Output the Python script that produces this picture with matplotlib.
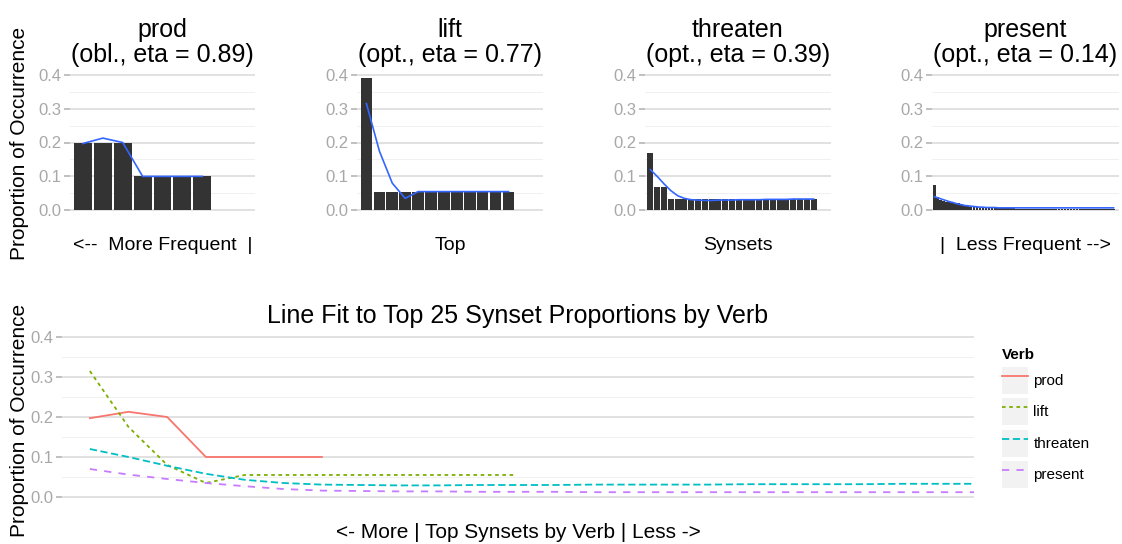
import matplotlib
matplotlib.use("Agg")
import matplotlib.pyplot as plt
from matplotlib.patches import Patch
from matplotlib.lines import Line2D
from matplotlib.ticker import MultipleLocator

plt.rcParams['font.family'] = ['Liberation Sans', 'DejaVu Sans']

# Anteile der Top-Synsets je Verb
verbs = ["prod", "lift", "threaten", "present"]
panel_titles = ["prod\n(obl., eta = 0.89)", "lift\n(opt., eta = 0.77)",
                "threaten\n(opt., eta = 0.39)", "present\n(opt., eta = 0.14)"]
panel_xlabels = ["<--  More Frequent  |", "Top", "Synsets", "|  Less Frequent -->"]

bars_prod = [0.2, 0.2, 0.2, 0.1, 0.1, 0.1, 0.1]
fit_prod = [0.197, 0.213, 0.2, 0.1, 0.1, 0.1, 0.1]

bars_lift = [0.39, 0.055, 0.055, 0.055, 0.055, 0.055, 0.055, 0.055, 0.055,
             0.055, 0.055, 0.055]
fit_lift = [0.315, 0.175, 0.08, 0.035, 0.055, 0.055, 0.055, 0.055, 0.055,
            0.055, 0.055, 0.055]

bars_threaten = [0.17, 0.07, 0.07, 0.032, 0.032, 0.032, 0.032, 0.032, 0.032,
                 0.032, 0.032, 0.032, 0.032, 0.032, 0.032, 0.032, 0.032, 0.032,
                 0.032, 0.032, 0.032, 0.032, 0.032, 0.032, 0.032]
fit_threaten = [0.12, 0.10, 0.078, 0.058, 0.043, 0.035, 0.031, 0.030, 0.029,
                0.029, 0.030, 0.030, 0.030, 0.031, 0.031, 0.031, 0.031, 0.032,
                0.032, 0.032, 0.032, 0.033, 0.033, 0.033, 0.033]

bars_present = [0.075, 0.038, 0.030, 0.027, 0.025, 0.024, 0.023, 0.022, 0.021,
                0.018, 0.012, 0.012, 0.011, 0.011, 0.010, 0.010, 0.010, 0.009,
                0.008, 0.008, 0.006, 0.006, 0.006, 0.006, 0.006, 0.006, 0.006,
                0.005, 0.005, 0.005, 0.005, 0.005, 0.005, 0.005, 0.005, 0.005,
                0.005, 0.005, 0.005, 0.005, 0.004, 0.004, 0.004, 0.004, 0.004,
                0.004, 0.004, 0.004, 0.004, 0.004, 0.004, 0.004, 0.004, 0.004,
                0.004, 0.004, 0.004, 0.004, 0.004, 0.004]
fit_present = [0.040, 0.037, 0.034, 0.031, 0.028, 0.025, 0.023, 0.020, 0.018,
               0.016, 0.014, 0.013, 0.012, 0.011, 0.010, 0.009, 0.009, 0.008,
               0.008, 0.008, 0.008, 0.007, 0.007, 0.007, 0.007, 0.007, 0.007,
               0.007, 0.007, 0.007, 0.007, 0.007, 0.007, 0.007, 0.007, 0.007,
               0.007, 0.007, 0.007, 0.007, 0.007, 0.007, 0.007, 0.007, 0.007,
               0.007, 0.007, 0.007, 0.007, 0.007, 0.007, 0.007, 0.007, 0.007,
               0.007, 0.007, 0.007, 0.007, 0.007, 0.007]
# Linienfit von present nur ueber die Top 25
fit_present_top25 = [0.070, 0.056, 0.045, 0.035, 0.027, 0.020, 0.016, 0.015,
                     0.014, 0.014, 0.013, 0.013, 0.013, 0.012, 0.012, 0.012,
                     0.012, 0.012, 0.012, 0.012, 0.012, 0.012, 0.012, 0.012,
                     0.012]

yticks = [0.0, 0.1, 0.2, 0.3, 0.4]

W, H = 1122, 544
fig = plt.figure(figsize=(W / 100, H / 100), dpi=100)


def px(l, t, r, b):
    return [l / W, 1 - b / H, (r - l) / W, (b - t) / H]


def style(ax):
    ax.set_ylim(-0.02, 0.42)
    ax.set_yticks(yticks)
    ax.set_yticklabels(["%.1f" % v for v in yticks])
    ax.yaxis.set_minor_locator(MultipleLocator(0.05))
    ax.grid(axis='y', which='major', color='#DEDEDE', lw=1.3)
    ax.grid(axis='y', which='minor', color='#F0F0F0', lw=0.7)
    ax.set_axisbelow(True)
    for s in ax.spines.values():
        s.set_visible(False)
    ax.set_xticks([])
    ax.tick_params(axis='y', which='major', length=4, width=1.2, color='#B5B5B5',
                   labelcolor='#A8A8A8', labelsize=12, pad=2)
    ax.tick_params(axis='y', which='minor', length=0)


top_boxes = [(70, 68, 255, 217), (357, 68, 543, 217), (645, 68, 831, 217),
             (932, 68, 1119, 217)]
top_xlims = [(0.35, 9.65), (0.27, 14.67), (0.21, 27.56), (0.2, 61.8)]
all_bars = [bars_prod, bars_lift, bars_threaten, bars_present]
all_fits = [fit_prod, fit_lift, fit_threaten, fit_present]

for i in range(4):
    ax = fig.add_axes(px(*top_boxes[i]))
    xs = range(1, len(all_bars[i]) + 1)
    ax.bar(xs, all_bars[i], width=0.9, color='#333333', zorder=2)
    ax.plot(xs, all_fits[i], color='#3366FF', lw=1.2, zorder=3)
    style(ax)
    ax.set_xlim(*top_xlims[i])
    ax.set_title(panel_titles[i], fontsize=18, pad=4, linespacing=1.1)
    cx = (top_boxes[i][0] + top_boxes[i][2]) / 2
    fig.text(cx / W, 1 - 245 / H, panel_xlabels[i], fontsize=14,
             ha='center', va='center')

fig.text(20 / W, 1 - 143 / H, "Proportion of Occurrence", fontsize=15,
         rotation=90, ha='center', va='center')

# unten: alle Fits zusammen
colors = ['#F8766D', '#7CAE00', '#00BFC4', '#C77CFF']
styles = ['-', (0, (2, 2)), (0, (4, 2)), (0, (4, 4))]
bottom_fits = [fit_prod, fit_lift, fit_threaten, fit_present_top25]

ax = fig.add_axes(px(62, 329, 974, 505))
handles = []
for fit, c, ls, name in zip(bottom_fits, colors, styles, verbs):
    ax.plot(range(1, len(fit) + 1), fit, color=c, ls=ls, lw=1.3)
    key = Line2D([], [], color=c, ls=ls, lw=1.3)
    handles.append((Patch(facecolor='#F2F2F2', edgecolor='none'), key))
style(ax)
ax.set_xlim(0.28, 23.86)
ax.set_title("Line Fit to Top 25 Synset Proportions by Verb", fontsize=18, pad=4)
fig.text(518 / W, 1 - 532 / H, "<- More | Top Synsets by Verb | Less ->",
         fontsize=15, ha='center', va='center')
fig.text(20 / W, 1 - 420 / H, "Proportion of Occurrence", fontsize=15,
         rotation=90, ha='center', va='center')

leg = fig.legend(handles, verbs, loc='upper left',
                 bbox_to_anchor=(996 / W, 1 - 342 / H), frameon=False,
                 title="Verb", fontsize=11, handlelength=1.7, handleheight=2.3,
                 labelspacing=0.32, handletextpad=0.35, borderaxespad=0,
                 alignment='left')
leg.get_title().set_fontweight('bold')
leg.get_title().set_fontsize(11)

fig.savefig("out.png", dpi=100)
